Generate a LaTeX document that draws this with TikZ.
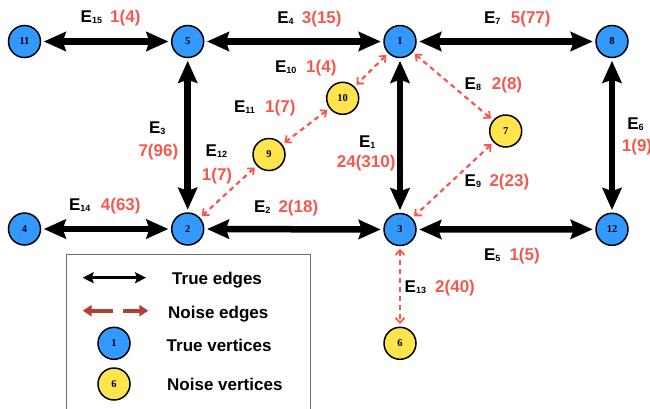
\documentclass[tikz,border=0pt]{standalone}
\usepackage{fontspec}
\setmainfont{Liberation Sans}
\newfontfamily\nodefont{Liberation Serif}
\usetikzlibrary{arrows.meta}
\definecolor{tblue}{RGB}{51,153,255}
\definecolor{nyellow}{RGB}{255,228,77}
\definecolor{numred}{RGB}{245,88,78}
\definecolor{legred}{RGB}{180,62,52}
\definecolor{boxgray}{RGB}{110,110,110}
\newcommand\Esub[1]{E\raisebox{-1pt}{\fontsize{9}{9}\selectfont#1}}
\tikzset{
 tv/.style={circle, draw=black, line width=1.5pt, fill=tblue, minimum size=32pt, inner sep=0pt, font=\nodefont\bfseries\fontsize{10.5}{10.5}\selectfont},
 nv/.style={tv, fill=nyellow},
 bigtip/.tip={Stealth[length=22pt,width=19pt,inset=3pt]},
 smalltip/.tip={Straight Barb[length=5pt,width=9pt,line width=1.8pt]},
 tedge/.style={line width=6.5pt, bigtip-bigtip, shorten <=2.5pt, shorten >=2.5pt},
 nedge/.style={draw=numred, line width=2.2pt, dash pattern=on 5pt off 4pt, smalltip-smalltip, shorten <=2.5pt, shorten >=2.5pt},
 elab/.style={anchor=base west, inner sep=0pt, font=\bfseries\fontsize{17}{17}\selectfont},
 nlab/.style={anchor=base west, inner sep=0pt, text=numred, font=\bfseries\fontsize{17}{17}\selectfont},
 legtext/.style={anchor=base west, inner sep=0pt, font=\bfseries\fontsize{17}{17}\selectfont},
}
\begin{document}
\begin{tikzpicture}[x=1pt,y=-1pt]
\useasboundingbox (0,0) rectangle (650,408);
% vertices
\node[tv] (n11) at (24.5,41.5) {11};
\node[tv] (n5) at (187.7,41.5) {5};
\node[tv] (n1) at (400,41.5) {1};
\node[tv] (n8) at (612,41.5) {8};
\node[nv] (n10) at (342.7,98.3) {10};
\node[nv] (n9) at (269,154.5) {9};
\node[nv] (n7) at (505.7,131) {7};
\node[tv] (n4) at (24.5,229) {4};
\node[tv] (n2) at (187.7,229) {2};
\node[tv] (n3) at (400,229.5) {3};
\node[tv] (n12) at (612,229.3) {12};
\node[nv] (n6) at (400,343.3) {6};
% true edges
\draw[tedge] (n11) -- (n5);
\draw[tedge] (n5) -- (n1);
\draw[tedge] (n1) -- (n8);
\draw[tedge] (n5) -- (n2);
\draw[tedge] (n1) -- (n3);
\draw[tedge] (n8) -- (n12);
\draw[tedge] (n4) -- (n2);
\draw[tedge] (n2) -- (n3);
\draw[tedge] (n3) -- (n12);
% noise edges
\draw[nedge] (n1) -- (n10);
\draw[nedge] (n10) -- (n9);
\draw[nedge] (n9) -- (n2);
\draw[nedge] (n1) -- (n7);
\draw[nedge] (n7) -- (n3);
\draw[nedge] (n3) -- (n6);
% edge labels
\node[elab] (e15) at (80.5,22.7) {\Esub{15}};
\node[nlab] (w15) at (110,22.7) {1(4)};
\node[elab] (e4) at (277.2,23.3) {\Esub{4}};
\node[nlab] (w4) at (301.7,23.3) {3(15)};
\node[elab] (e7) at (483.8,23.3) {\Esub{7}};
\node[nlab] (w7) at (510.7,23.3) {5(77)};
\node[elab] (e10) at (274.8,72.7) {\Esub{10}};
\node[nlab] (w10) at (306,72.7) {1(4)};
\node[elab] (e11) at (233.8,112.7) {\Esub{11}};
\node[nlab] (w11) at (265,112.7) {1(7)};
\node[elab] (e8) at (464.5,89.3) {\Esub{8}};
\node[nlab] (w8) at (491.7,89.3) {2(8)};
\node[elab] (e3) at (148.8,133.7) {\Esub{3}};
\node[nlab] (w3) at (138.3,156.7) {7(96)};
\node[elab] (e12) at (205.5,156) {\Esub{12}};
\node[nlab] (w12) at (201.7,180) {1(7)};
\node[elab] (e14) at (68.8,210.7) {\Esub{14}};
\node[nlab] (w14) at (100.7,210.7) {4(63)};
\node[elab] (e1) at (358.8,147.5) {\Esub{1}};
\node[nlab] (w1) at (336.7,167.7) {24(310)};
\node[elab] (e2) at (253.8,212.7) {\Esub{2}};
\node[nlab] (w2) at (278.3,212.7) {2(18)};
\node[elab] (e9) at (464.5,186) {\Esub{9}};
\node[nlab] (w9) at (489.3,186) {2(23)};
\node[elab] (e6) at (627.1,129) {\Esub{6}};
\node[nlab] (w6) at (621.7,151.7) {1(9)};
\node[elab] (e5) at (483.8,260) {\Esub{5}};
\node[nlab] (w5) at (509.3,260) {1(5)};
\node[elab] (e13) at (404.5,292.7) {\Esub{13}};
\node[nlab] (w13) at (435,292.7) {2(40)};
% legend
\draw[boxgray, line width=1pt] (66,254) rectangle (310.7,412);
\coordinate (la1) at (82.7,277.7);
\coordinate (la2) at (146,277.7);
\draw[line width=3pt, {Stealth[length=11pt,width=11pt,inset=2pt]}-{Stealth[length=11pt,width=11pt,inset=2pt]}] (la1) -- (la2);
\coordinate (lb1) at (82.7,310.7);
\coordinate (lb2) at (113,310.7);
\coordinate (lb3) at (123.3,310.7);
\coordinate (lb4) at (148.3,310.7);
\draw[legred, line width=3.7pt, -{Triangle[length=9pt,width=11pt]}] (lb2) -- (lb1);
\draw[legred, line width=3.7pt, -{Triangle[length=9pt,width=11pt]}] (lb3) -- (lb4);
\node[tv] (lv1) at (114,343.3) {1};
\node[nv] (lv6) at (114,384) {6};
\node[legtext] (t1) at (172,284.3) {True edges};
\node[legtext] (t2) at (168,318.3) {Noise edges};
\node[legtext] (t3) at (166.5,351) {True vertices};
\node[legtext] (t4) at (167,390) {Noise vertices};
\end{tikzpicture}
\end{document}
